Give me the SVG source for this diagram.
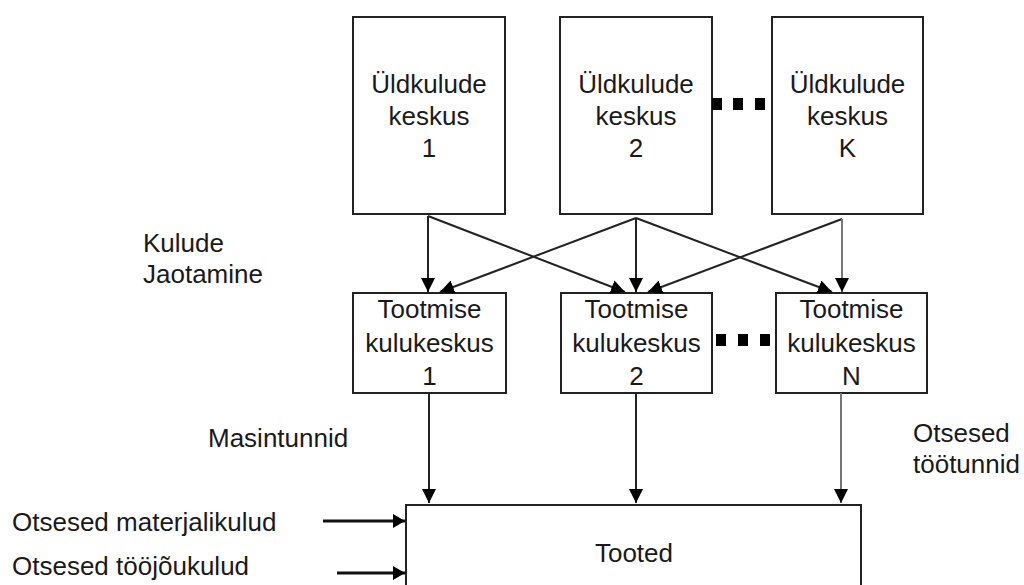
<svg xmlns="http://www.w3.org/2000/svg" width="1024" height="585" viewBox="0 0 1024 585">
<defs>
<style>
.box{fill:#fff;stroke:#222;stroke-width:2}
.t{font-family:"Liberation Sans",Arial,sans-serif;font-size:26px;fill:#1a1a1a}
.c{text-anchor:middle}
.ln{stroke:#222;stroke-width:2;fill:none;marker-end:url(#ah)}
.hl{stroke:#111;stroke-width:3;fill:none;marker-end:url(#ah2)}
.gl{stroke:#777;stroke-width:2;fill:none;marker-end:url(#ah)}
.dot{fill:#000}
</style>
<marker id="ah" markerUnits="userSpaceOnUse" markerWidth="14" markerHeight="14" refX="14" refY="7" orient="auto">
<path d="M0,0 L14,7 L0,14 z" fill="#000"/>
</marker>
<marker id="ah2" markerUnits="userSpaceOnUse" markerWidth="12" markerHeight="14" refX="12" refY="7" orient="auto">
<path d="M0,0 L12,7 L0,14 z" fill="#000"/>
</marker>
</defs>
<rect width="1024" height="585" fill="#fff"/>

<g id="oh1"><rect class="box" x="353" y="17" width="152" height="197"/>
<text class="t c" x="429" y="93">Üldkulude</text><text class="t c" x="429" y="125">keskus</text><text class="t c" x="429" y="157">1</text></g>
<g id="oh2"><rect class="box" x="560" y="17" width="152" height="197"/>
<text class="t c" x="636" y="93">Üldkulude</text><text class="t c" x="636" y="125">keskus</text><text class="t c" x="636" y="157">2</text></g>
<g id="ohK"><rect class="box" x="772" y="17" width="151" height="197"/>
<text class="t c" x="847.5" y="93">Üldkulude</text><text class="t c" x="847.5" y="125">keskus</text><text class="t c" x="847.5" y="157">K</text></g>
<g id="dots-top"><rect class="dot" x="712" y="98" width="10" height="12"/><rect class="dot" x="733" y="98" width="10" height="12"/><rect class="dot" x="755" y="98" width="10" height="12"/></g>

<g id="pc1"><rect class="box" x="353" y="293" width="153" height="100"/>
<text class="t c" x="429.5" y="318">Tootmise</text><text class="t c" x="429.5" y="352">kulukeskus</text><text class="t c" x="429.5" y="385">1</text></g>
<g id="pc2"><rect class="box" x="561" y="293" width="151" height="100"/>
<text class="t c" x="636.5" y="318">Tootmise</text><text class="t c" x="636.5" y="352">kulukeskus</text><text class="t c" x="636.5" y="385">2</text></g>
<g id="pcN"><rect class="box" x="776" y="293" width="151" height="100"/>
<text class="t c" x="851.5" y="318">Tootmise</text><text class="t c" x="851.5" y="352">kulukeskus</text><text class="t c" x="851.5" y="385">N</text></g>
<g id="dots-mid"><rect class="dot" x="716" y="334" width="10" height="12"/><rect class="dot" x="738" y="334" width="10" height="12"/><rect class="dot" x="760" y="334" width="10" height="12"/></g>

<g id="tooted"><rect class="box" x="406" y="505" width="455" height="100"/>
<text class="t c" x="634" y="562">Tooted</text></g>

<g id="labels">
<text class="t" x="143" y="252">Kulude</text>
<text class="t" x="143" y="283">Jaotamine</text>
<text class="t" x="208" y="447">Masintunnid</text>
<text class="t" x="913" y="442">Otsesed</text>
<text class="t" x="913" y="473">töötunnid</text>
<text class="t" x="12" y="531">Otsesed materjalikulud</text>
<text class="t" x="12" y="575">Otsesed tööjõukulud</text>
</g>

<g id="connectors">
<line class="ln" x1="428" y1="216" x2="428" y2="292"/>
<line class="ln" x1="428" y1="216" x2="625" y2="292"/>
<line class="ln" x1="636" y1="218" x2="440" y2="292"/>
<line class="ln" x1="636" y1="218" x2="636" y2="292"/>
<line class="ln" x1="636" y1="218" x2="832" y2="292"/>
<line class="ln" x1="842" y1="219" x2="648" y2="292"/>
<line class="gl" x1="842" y1="219" x2="842" y2="292"/>
<line class="ln" x1="429" y1="393" x2="429" y2="503"/>
<line class="ln" x1="636" y1="393" x2="636" y2="503"/>
<line class="gl" x1="841" y1="393" x2="841" y2="503"/>
<line class="hl" x1="323" y1="521" x2="405" y2="521"/>
<line class="hl" x1="337" y1="573" x2="405" y2="573"/>
</g>
</svg>
